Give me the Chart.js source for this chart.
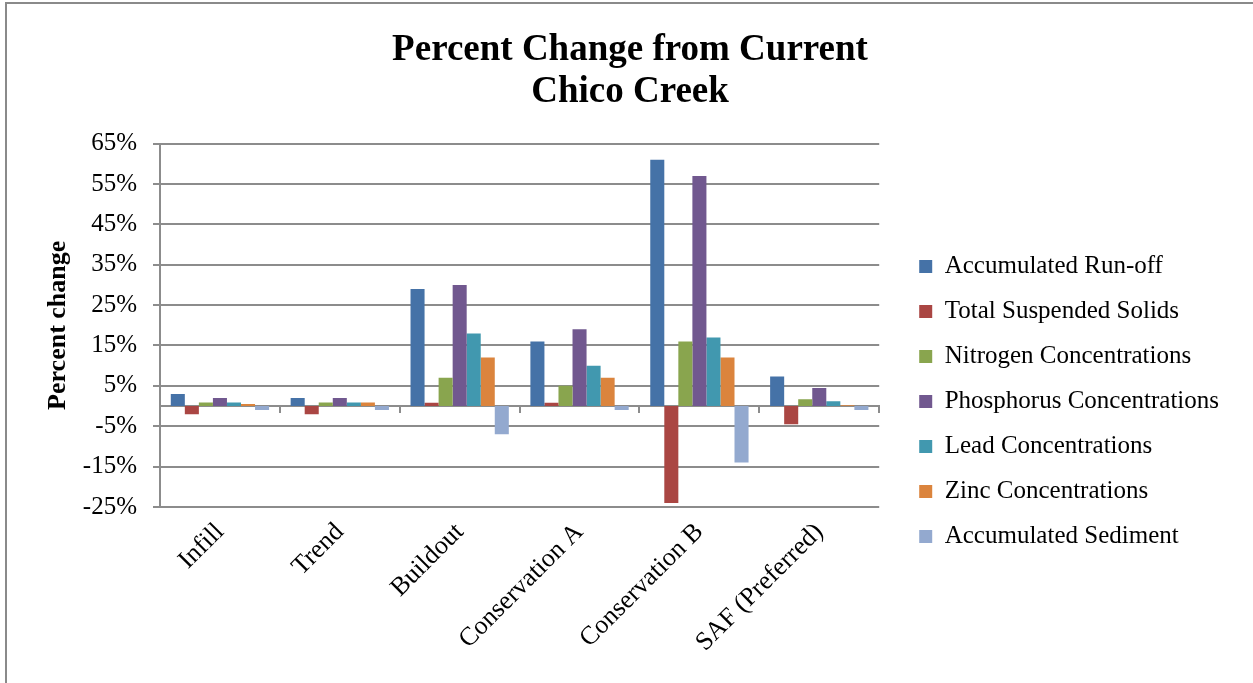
<!DOCTYPE html>
<html>
<head>
<meta charset="utf-8">
<script src="https://cdn.jsdelivr.net/npm/chart.js@4/dist/chart.umd.min.js"></script>
<style>
  html, body { margin: 0; padding: 0; background: #fff; }
  #wrap { width: 1253px; height: 683px; }
</style>
</head>
<body>
<div id="wrap"><canvas id="creekChart"></canvas></div>
<script>
'use strict';

// Szenarien (x-Achse)
const scenarios = ['Infill', 'Trend', 'Buildout', 'Conservation A', 'Conservation B', 'SAF (Preferred)'];

// Prozentuale Veränderung je Kennwert
const runOff = [3, 2, 29, 16, 61, 7.3];
const suspendedSolids = [-2, -2, 0.8, 0.8, -24, -4.5];
const nitrogen = [0.9, 0.9, 7, 5, 16, 1.7];
const phosphorus = [2, 2, 30, 19, 57, 4.5];
const lead = [0.9, 0.9, 18, 10, 17, 1.2];
const zinc = [0.5, 0.9, 12, 7, 12, 0.2];
const sediment = [-1, -1, -7, -1, -14, -1];

const yMin = -25;
const yMax = 65;
const yStep = 10;

const seriesNames = [
  'Accumulated Run-off',
  'Total Suspended Solids',
  'Nitrogen Concentrations',
  'Phosphorus Concentrations',
  'Lead Concentrations',
  'Zinc Concentrations',
  'Accumulated Sediment',
];
const seriesValues = [runOff, suspendedSolids, nitrogen, phosphorus, lead, zinc, sediment];
const seriesColors = ['#4572A7', '#AA4643', '#89A54E', '#71588F', '#4198AF', '#DB843D', '#93A9CF'];

const gridGray = '#8c8c8c';
const serif = "'Liberation Serif', 'Times New Roman', serif";

// Rahmen oben und links wie im Original
const framePlugin = {
  id: 'frame',
  beforeDraw(chart) {
    const c = chart.ctx;
    c.save();
    c.fillStyle = '#fff';
    c.fillRect(0, 0, chart.width, chart.height);
    c.strokeStyle = '#8a8a8a';
    c.lineWidth = 2;
    c.beginPath();
    c.moveTo(6, chart.height);
    c.lineTo(6, 3);
    c.lineTo(chart.width, 3);
    c.stroke();
    c.restore();
  },
};

// Legende darf breiter werden als die Standard-Grenze (halbe Breite / Anzahl Boxen)
const wideLegendPlugin = {
  id: 'wideLegend',
  beforeUpdate(chart) {
    const legend = chart.legend;
    if (legend && !legend._wide) {
      const origUpdate = legend.update.bind(legend);
      legend.update = (maxWidth, maxHeight, margins) =>
        origUpdate(Math.max(maxWidth, 360), maxHeight, margins);
      legend._wide = true;
    }
  },
};

const ctx = document.getElementById('creekChart').getContext('2d');
new Chart(ctx, {
  type: 'bar',
  data: {
    labels: scenarios,
    datasets: seriesNames.map((name, i) => ({
      label: name,
      data: seriesValues[i],
      backgroundColor: seriesColors[i],
      borderWidth: 0,
      barPercentage: 1,
      categoryPercentage: 0.82,
    })),
  },
  options: {
    responsive: true,
    maintainAspectRatio: false,
    animation: false,
    layout: { padding: { left: 31, right: 24, top: 0, bottom: 0 } },
    plugins: {
      title: {
        display: true,
        text: ['Percent Change from Current', 'Chico Creek'],
        color: '#000',
        font: { family: serif, size: 37, weight: 'bold', lineHeight: 1.13 },
        padding: { top: 30, bottom: 30 },
      },
      legend: {
        position: 'right',
        // leerer Titel schiebt die Einträge nach unten
        title: {
          display: true,
          text: ' ',
          font: { size: 1, lineHeight: 1 },
          padding: { top: 119, bottom: 0 },
        },
        labels: {
          color: '#000',
          font: { family: serif, size: 25 },
          boxWidth: 13,
          boxHeight: 13,
          padding: 20,
        },
      },
      tooltip: { enabled: false },
    },
    scales: {
      x: {
        position: { y: 0 },
        offset: true,
        ticks: { display: false },
        grid: {
          offset: true,
          drawOnChartArea: false,
          drawTicks: true,
          tickLength: 6,
          color: gridGray,
          lineWidth: 2,
        },
        border: { color: gridGray, width: 2 },
      },
      x2: {
        type: 'category',
        position: 'bottom',
        offset: true,
        grid: { display: false },
        border: { display: false },
        ticks: {
          color: '#000',
          font: { family: serif, size: 26 },
          minRotation: 45,
          maxRotation: 45,
          padding: 2,
          autoSkip: false,
        },
        afterFit: scale => {
          scale.height = 176;
        },
      },
      y: {
        min: yMin,
        max: yMax,
        ticks: {
          stepSize: yStep,
          color: '#000',
          font: { family: serif, size: 25 },
          padding: 16,
          callback: value => `${value}%`,
        },
        grid: { color: gridGray, lineWidth: 2, tickLength: 7 },
        border: { color: gridGray, width: 2 },
        title: {
          display: true,
          text: 'Percent change',
          color: '#000',
          font: { family: serif, size: 26, weight: 'bold' },
          padding: { top: 12, bottom: 0 },
        },
        afterFit: scale => {
          scale.width = 129;
        },
      },
      yR: {
        type: 'linear',
        position: 'right',
        grid: { display: false },
        border: { display: false },
        ticks: { display: false },
        afterFit: scale => {
          scale.width = 20;
        },
      },
    },
  },
  plugins: [framePlugin, wideLegendPlugin],
});
</script>
</body>
</html>
